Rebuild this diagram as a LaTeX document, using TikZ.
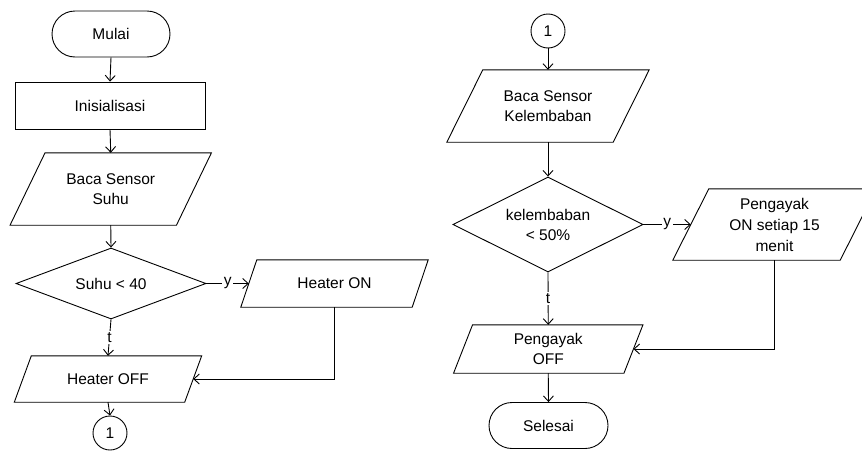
\documentclass[tikz,border=0pt]{standalone}
\usepackage{fontspec}
\setmainfont{Liberation Sans}
\usetikzlibrary{shapes.geometric,arrows.meta}
\newcommand\paral[2]{\draw[shp] ([xshift=#2/2]#1.north west) -- ([xshift=#2/2]#1.north east) -- ([xshift=-#2/2]#1.south east) -- ([xshift=-#2/2]#1.south west) -- cycle;}
\begin{document}
\begin{tikzpicture}[x=1pt,y=-1pt,
  every node/.style={font=\fontsize{15.5}{20}\selectfont, inner sep=0pt, align=center},
  shp/.style={line width=0.9pt, line join=miter},
  term/.style={draw, shp, rectangle, rounded corners=23pt, minimum width=#1, minimum height=46pt},
  procbox/.style={draw, shp, rectangle, minimum width=190pt, minimum height=47pt},
  iobox/.style 2 args={rectangle, minimum width=#1, minimum height=#2},
  decbox/.style n args={3}{draw, shp, diamond, aspect=#3, minimum width=#1, minimum height=#2},
  conn/.style={draw, shp, circle, minimum size=34pt},
  arr/.style={line width=0.9pt, -{Straight Barb[length=5.5pt,width=10pt,line width=0.9pt]}},
  lbl/.style={fill=white, inner sep=1.5pt}
]
\useasboundingbox (0,0) rectangle (862,450);
% left column
\node[term=118pt] (mulai) at (111,34) {Mulai};
\node[procbox] (init) at (110,105.5) {Inisialisasi};
\node[iobox={166pt}{72pt}] (baca1) at (110.75,189) {Baca Sensor\\Suhu};
\paral{baca1}{35}
\node[decbox={190pt}{71pt}{2.68}] (dec1) at (111,283.5) {Suhu < 40};
\node[iobox={171pt}{47pt}] (heaton) at (334.5,283.5) {Heater ON};
\paral{heaton}{16}
\node[iobox={170pt}{46pt}] (heatoff) at (108,379) {Heater OFF};
\paral{heatoff}{17}
\node[conn] (c1) at (110,433) {1};
% right column
\node[conn] (c2) at (548,31) {1};
\node[iobox={166pt}{72pt}] (baca2) at (548,106) {Baca Sensor\\Kelembaban};
\paral{baca2}{36}
\node[decbox={190pt}{95pt}{2}] (dec2) at (548,224.5) {kelembaban\\< 50\%};
\node[iobox={167pt}{71pt}, font=\fontsize{15.5}{21}\selectfont] (pengon) at (774.5,224.5) {Pengayak\\ON setiap 15\\menit};
\paral{pengon}{36}
\node[iobox={170pt}{48pt}] (pengoff) at (548.25,349) {Pengayak\\OFF};
\paral{pengoff}{19}
\node[term=119pt] (selesai) at (548.5,425.5) {Selesai};
% connectors left
\draw[arr] (mulai.south) -- (init.north);
\draw[arr] (init.south) -- (baca1.north);
\draw[arr] (baca1.south) -- (dec1.north);
\draw[arr] (dec1.east) -- node[lbl] {y} (heaton.west);
\draw[arr] (dec1.south) -- node[lbl] {t} (heatoff.north);
\draw[arr] (heaton.south) |- (heatoff.east);
\draw[arr] (heatoff.south) -- (c1.north);
% connectors right
\draw[arr] (c2.south) -- (baca2.north);
\draw[arr] (baca2.south) -- (dec2.north);
\draw[arr] (dec2.east) -- node[lbl] {y} (pengon.west);
\draw[arr] (dec2.south) -- node[lbl] {t} (pengoff.north);
\draw[arr] (pengon.south) |- (pengoff.east);
\draw[arr] (pengoff.south) -- (selesai.north);
\end{tikzpicture}
\end{document}
